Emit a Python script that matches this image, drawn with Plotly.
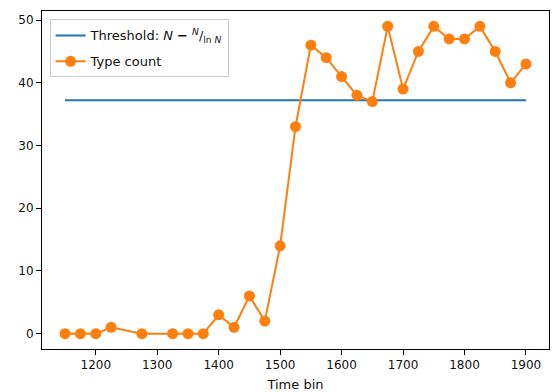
import numpy as np
import plotly.graph_objects as go

years = [1150, 1175, 1200, 1225, 1275, 1325, 1350, 1375, 1400, 1425, 1450, 1475,
         1500, 1525, 1550, 1575, 1600, 1625, 1650, 1675, 1700, 1725, 1750, 1775,
         1800, 1825, 1850, 1875, 1900]
counts = [0, 0, 0, 1, 0, 0, 0, 0, 3, 1, 6, 2, 14, 33, 46, 44, 41, 38, 37, 49, 39,
          45, 49, 47, 47, 49, 45, 40, 43]
N = 50
threshold = N - N / np.log(N)
x_ticks = [1200, 1300, 1400, 1500, 1600, 1700, 1800, 1900]
y_ticks = [0, 10, 20, 30, 40, 50]

fig = go.Figure()
fig.add_trace(go.Scatter(
    x=[years[0], years[-1]], y=[threshold, threshold], mode="lines",
    line=dict(color="#1f77b4", width=2), legendgroup="a",
    name="Threshold: <i>N</i> <b>−</b> <sup><i>N</i></sup>/<sub>ln <i>N</i></sub>"))
fig.add_trace(go.Scatter(
    x=years, y=counts, mode="lines+markers",
    line=dict(color="#ff7f0e", width=2), legendgroup="b",
    marker=dict(color="#ff7f0e", size=11),
    name="Type count"))

axis_common = dict(showgrid=False, zeroline=False, showline=True, linecolor="black",
                   linewidth=1, mirror=True, ticks="outside", ticklen=5, automargin=False,
                   tickcolor="black", tickfont=dict(family="DejaVu Sans", size=12, color="#111"))
fig.update_layout(
    width=552, height=392,
    margin=dict(l=42, r=3, t=11, b=43),
    plot_bgcolor="white", paper_bgcolor="white",
    font=dict(family="DejaVu Sans", size=12, color="#111"),
    xaxis=dict(range=[1112.5, 1937.5], tickvals=x_ticks,
               title=dict(text="Time bin", standoff=12, font=dict(size=13)), **axis_common),
    yaxis=dict(range=[-2.45, 51.45], tickvals=y_ticks, **axis_common),
    legend=dict(x=0.015, y=0.975, xanchor="left", yanchor="top",
                bordercolor="#cccccc", borderwidth=1, bgcolor="rgba(255,255,255,0.8)",
                font=dict(family="DejaVu Sans", size=13), traceorder="grouped",
                tracegroupgap=6),
    showlegend=True,
)
fig.write_html("out.html")
